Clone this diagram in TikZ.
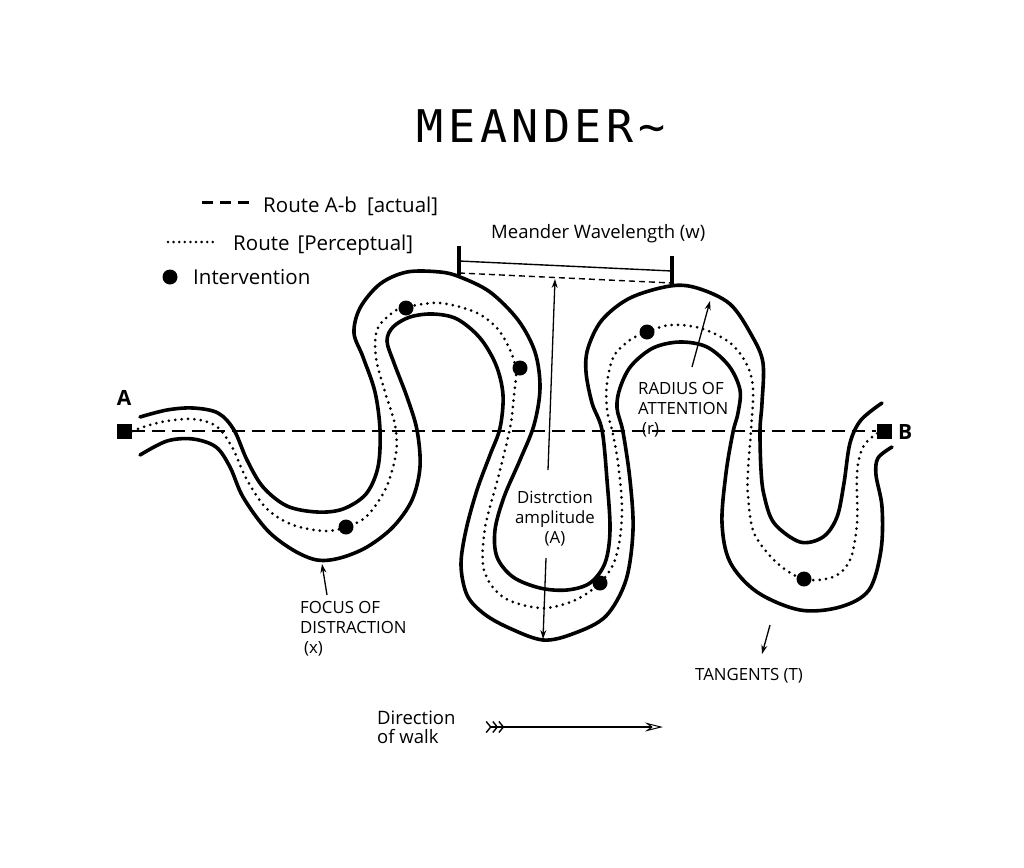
\documentclass[tikz,border=0pt]{standalone}
\usepackage{fontspec}
\setmainfont{Open Sans}
\newfontfamily\titlefont{DejaVu Sans Mono}[LetterSpace=10]
\usetikzlibrary{arrows.meta}
\begin{document}
\begin{tikzpicture}[x=1pt,y=-1pt,
  bank/.style={line width=3.6pt, line cap=round, line join=round},
  walk/.style={line width=3pt, dash pattern=on 0pt off 6.4pt, line cap=round},
  route/.style={line width=2.8pt, dash pattern=on 13pt off 7pt},
  dotmark/.style={circle, fill=black, inner sep=0pt, minimum size=15pt},
  sqmark/.style={rectangle, fill=black, inner sep=0pt, minimum size=15pt},
  lab/.style={font=\fontsize{16.8}{20}\selectfont, inner sep=0pt},
  legtxt/.style={font=\fontsize{20.5}{24}\selectfont, inner sep=0pt, anchor=base west},
  ptr/.style={line width=1.3pt, -{Stealth[length=9pt,width=6pt]}},
]
\fill[white] (0,0) rectangle (1024,867);
\useasboundingbox (0,0) rectangle (1024,867);

% title
\node[inner sep=0pt, anchor=base] (title) at (541,142) {\titlefont\fontsize{45}{50}\selectfont MEANDER\textasciitilde};

% legend
\coordinate (lg1a) at (202,202); \coordinate (lg1b) at (250,202);
\draw[line width=3pt, dash pattern=on 11pt off 7pt] (lg1a) -- (lg1b);
\node[legtxt] (lt1) at (263,212) {Route A-b\hspace{10pt}[actual]};
\coordinate (lg2a) at (168,242); \coordinate (lg2b) at (213,242);
\draw[walk, line width=2.8pt, dash pattern=on 0pt off 5.6pt] (lg2a) -- (lg2b);
\node[legtxt] (lt2) at (233,250) {Route\hspace{8pt}[Perceptual]};
\node[dotmark] (lgdot) at (170,277) {};
\node[legtxt] (lt3) at (193,284) {Intervention};

% wavelength bracket
\node[inner sep=0pt, anchor=base west, font=\fontsize{18.5}{22}\selectfont] (wl) at (491,238) {Meander Wavelength (w)};
\coordinate (wlA1) at (459,246); \coordinate (wlA2) at (459,275);
\coordinate (wlB1) at (672,256); \coordinate (wlB2) at (672,285);
\draw[line width=3.4pt] (wlA1) -- (wlA2);
\draw[line width=3.4pt] (wlB1) -- (wlB2);
\coordinate (wlS1) at (459,261); \coordinate (wlS2) at (672,271);
\draw[line width=1.4pt] (wlS1) -- (wlS2);
\coordinate (wlD1) at (459,273); \coordinate (wlD2) at (672,283);
\draw[line width=1.4pt, dash pattern=on 6pt off 4pt] (wlD1) -- (wlD2);

% river bank 1
\draw[bank] plot[smooth, tension=0.55] coordinates {
 (140,417) (167,410) (193,408) (218,413) (234,430) (247,460) (263,487) (287,506)
 (317,512) (343,509) (366,494) (378,467) (380,430) (375,392) (363,357) (354,333)
 (360,308) (380,284) (407,272) (440,272) (460,277) (490,292) (518,320) (535,352)
 (540,388) (534,425) (520,460) (504,497) (495,530) (497,557) (513,577) (540,588)
 (567,590) (590,583) (605,563) (610,530) (607,480) (602,430) (592,403) (586,372)
 (588,348) (602,320) (630,298) (670,286) (697,288) (730,304) (752,336) (763,363)
 (762,403) (760,430) (761,470) (764,495) (774,523) (800,542) (823,537) (837,517)
 (844,483) (850,443) (861,420) (882,403)};

% river bank 2
\draw[bank] plot[smooth, tension=0.55] coordinates {
 (140,455) (167,441) (193,439) (216,447) (230,467) (243,497) (267,530) (293,550)
 (317,560) (340,558) (367,547) (393,527) (412,500) (420,467) (417,430) (407,397)
 (394,363) (387,341) (393,327) (410,317) (433,314) (457,319) (480,338) (496,365)
 (503,395) (500,428) (490,455) (477,490) (466,530) (461,565) (467,595) (483,613)
 (507,627) (543,640) (575,633) (606,616) (626,580) (633,530) (630,480) (623,432)
 (617,408) (620,388) (631,366) (653,348) (680,342) (707,347) (729,366) (740,390)
 (738,413) (733,432) (726,473) (722,523) (730,562) (757,592) (800,610) (840,607)
 (869,590) (881,550) (882,507) (876,475) (878,458) (892,447)};

% perceptual route (dotted)
\draw[walk] plot[smooth, tension=0.55] coordinates {
 (132,431) (150,425) (167,421) (193,419) (216,426) (232,447) (247,480) (267,509)
 (293,525) (325,531) (346,527) (367,516) (386,488) (396,453) (395,425) (385,392)
 (376,358) (377,330) (392,313) (406,307) (440,303) (475,312) (497,328) (510,350)
 (516,370) (514,395) (510,428) (498,478) (485,528) (484,570) (503,597) (540,608)
 (573,601) (600,583) (616,557) (622,513) (618,463) (612,430) (607,410) (607,383)
 (614,356) (630,340) (647,332) (670,325) (700,328) (729,342) (746,363) (753,388)
 (751,430) (748,470) (748,495) (754,533) (777,563) (804,579) (833,577) (850,560)
 (857,523) (857,473) (863,447) (876,434) (884,431)};

% interventions
\node[dotmark] (d1) at (406,308) {};
\node[dotmark] (d2) at (520,368) {};
\node[dotmark] (d3) at (346,527) {};
\node[dotmark] (d4) at (600,583) {};
\node[dotmark] (d5) at (647,332) {};
\node[dotmark] (d6) at (804,579) {};

% actual route
\node[sqmark] (Asq) at (124,431) {};
\node[sqmark] (Bsq) at (884,431) {};
\draw[route] (Asq.east) -- (Bsq.west);
\node[inner sep=0pt, font=\bfseries\fontsize{21}{24}\selectfont, anchor=base] (Alab) at (124,405) {A};
\node[inner sep=0pt, font=\bfseries\fontsize{21}{24}\selectfont, anchor=base west] (Blab) at (898,439) {B};

% amplitude
\coordinate (ampT) at (555,279); \coordinate (ampU) at (548,470);
\draw[ptr] (ampU) -- (ampT);
\coordinate (ampL) at (546,558); \coordinate (ampB) at (543,639);
\draw[ptr] (ampL) -- (ampB);
\node[lab, align=center, anchor=north] (amp) at (555,491) {Distrction\\amplitude\\(A)};

% radius of attention
\node[lab, align=left, anchor=north west] (rad) at (638,382) {RADIUS OF\\ATTENTION\\\hspace{4pt}(r)};
\coordinate (radS) at (692,367); \coordinate (radT) at (710,301);
\draw[ptr] (radS) -- (radT);

% focus of distraction
\node[lab, align=left, anchor=north west] (foc) at (300,601) {FOCUS OF\\DISTRACTION\\\hspace{4pt}(x)};
\coordinate (focS) at (327,595); \coordinate (focT) at (322,564);
\draw[ptr] (focS) -- (focT);

% tangents
\node[lab, anchor=base west] (tan) at (695,680) {TANGENTS (T)};
\coordinate (tanS) at (770,625); \coordinate (tanT) at (762,654);
\draw[ptr] (tanS) -- (tanT);

% direction of walk
\node[inner sep=0pt, align=left, anchor=north west, font=\fontsize{18.5}{18.5}\selectfont] (dir) at (377,711) {Direction\\of walk};
\coordinate (dirS) at (485,727); \coordinate (dirE) at (663,727);
\draw[line width=2.8pt,
  {Straight Barb[reversed,length=4.5pt,width=11pt,line width=1.4pt,sep=0.5pt]Straight Barb[reversed,length=4.5pt,width=11pt,line width=1.4pt,sep=0.5pt]Straight Barb[reversed,length=4.5pt,width=11pt,line width=1.4pt]}-{Stealth[open,length=18pt,width=9pt,inset=6pt,line width=1pt]}]
  (dirS) -- (dirE);
\end{tikzpicture}
\end{document}
